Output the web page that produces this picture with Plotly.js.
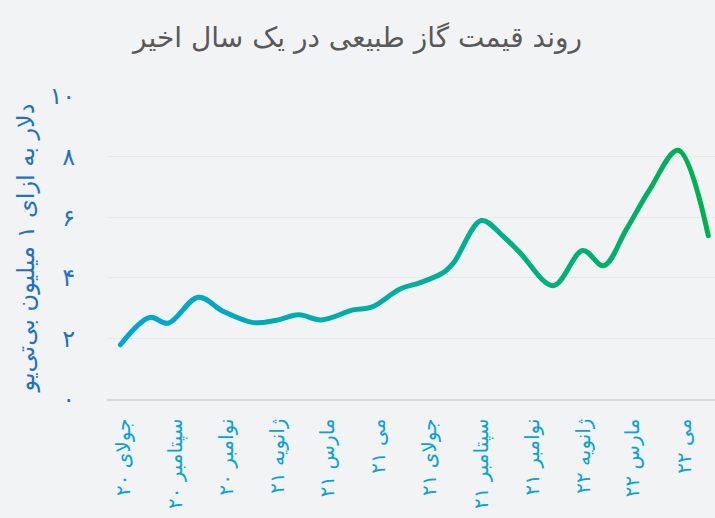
<!DOCTYPE html>
<html>
<head>
<meta charset="utf-8">
<script src="https://cdn.plot.ly/plotly-3.0.1.min.js"></script>
<style>
html,body{margin:0;padding:0;background:#f2f3f5;}
#chart{width:715px;height:518px;}
</style>
</head>
<body>
<div id="chart"></div>
<script>
const dates = ['2020-06-27','2020-08-01','2020-08-23','2020-09-28','2020-10-28','2020-12-03','2020-12-29','2021-01-26','2021-02-22','2021-04-01','2021-04-23','2021-05-27','2021-06-20','2021-07-18','2021-07-30','2021-09-01','2021-09-27','2021-10-17','2021-11-26','2021-12-31','2022-01-25','2022-02-21','2022-03-21','2022-04-24','2022-05-30'];
const prices = [1.79,2.69,2.50,3.36,2.89,2.52,2.59,2.78,2.61,2.94,3.03,3.63,3.84,4.18,4.50,5.89,5.37,4.83,3.74,4.90,4.40,5.59,6.91,8.21,5.39];

const xTickVals = ['2020-07-01','2020-09-01','2020-11-01','2021-01-01','2021-03-01','2021-05-01','2021-07-01','2021-09-01','2021-11-01','2022-01-01','2022-03-01','2022-05-01'];
const xTickText = ['جولای ۲۰','سپتامبر ۲۰','نوامبر ۲۰','ژانویه ۲۱','مارس ۲۱','می ۲۱','جولای ۲۱','سپتامبر ۲۱','نوامبر ۲۱','ژانویه ۲۲','مارس ۲۲','می ۲۲'];
const yTickVals = [0,2,4,6,8,10];
const yTickText = ['۰','۲','۴','۶','۸','۱۰'];

const titleText = 'روند قیمت گاز طبیعی در یک سال اخیر';
const yTitleText = 'دلار به ازای ۱ میلیون بی‌تی‌یو';

const FONT = 'DejaVu Sans, sans-serif';

const trace = {
  x: dates, y: prices, type: 'scatter', mode: 'lines',
  line: {shape: 'spline', smoothing: 1, width: 5, color: '#00aab8'},
  hoverinfo: 'skip'
};

const layout = {
  width: 715, height: 518,
  paper_bgcolor: '#f2f3f5', plot_bgcolor: '#f2f3f5',
  margin: {l: 107, r: 0, t: 96, b: 119},
  showlegend: false,
  title: {text: titleText, x: 0.5, xref: 'container', y: 0.928, yref: 'container', xanchor: 'center', yanchor: 'middle',
          font: {family: FONT, size: 28, color: '#595959'}},
  xaxis: {
    type: 'date', range: ['2020-06-11','2022-06-07'],
    tickmode: 'array', tickvals: xTickVals, ticktext: xTickText,
    tickangle: -90, ticks: 'outside', ticklen: 10, tickcolor: 'rgba(0,0,0,0)',
    tickfont: {family: FONT, size: 20, color: '#0aa2d2'},
    showgrid: false, showline: true, linecolor: '#d9d9d9', linewidth: 1.5,
    zeroline: false, fixedrange: true
  },
  yaxis: {
    range: [0, 10], tickmode: 'array', tickvals: yTickVals, ticktext: yTickText,
    ticks: 'outside', ticklen: 26, tickcolor: 'rgba(0,0,0,0)',
    tickfont: {family: FONT, size: 24, color: '#1f72c0'},
    showgrid: true, gridcolor: '#e9e9eb', gridwidth: 1,
    zeroline: false, showline: false, fixedrange: true,
    title: {text: yTitleText, standoff: 8, font: {family: FONT, size: 24, color: '#1f72c0'}}
  }
};

Plotly.newPlot('chart', [trace], layout, {displayModeBar: false, staticPlot: true}).then(function(gd){
  const svg = gd.querySelector('svg.main-svg');
  const ns = 'http://www.w3.org/2000/svg';
  let defs = svg.querySelector('defs');
  if (!defs) { defs = document.createElementNS(ns, 'defs'); svg.insertBefore(defs, svg.firstChild); }
  const grad = document.createElementNS(ns, 'linearGradient');
  grad.setAttribute('id', 'lineGrad');
  grad.setAttribute('x1', '0'); grad.setAttribute('y1', '0');
  grad.setAttribute('x2', '1'); grad.setAttribute('y2', '0');
  const stops = [['0', '#00a6d0'], ['0.55', '#00b097'], ['1', '#00b04f']];
  stops.forEach(function(s){
    const st = document.createElementNS(ns, 'stop');
    st.setAttribute('offset', s[0]); st.setAttribute('stop-color', s[1]);
    grad.appendChild(st);
  });
  defs.appendChild(grad);
  gd.querySelectorAll('.scatterlayer path.js-line').forEach(function(p){
    p.style.stroke = 'url(#lineGrad)';
    p.style.strokeLinecap = 'round';
  });
});
</script>
</body>
</html>
